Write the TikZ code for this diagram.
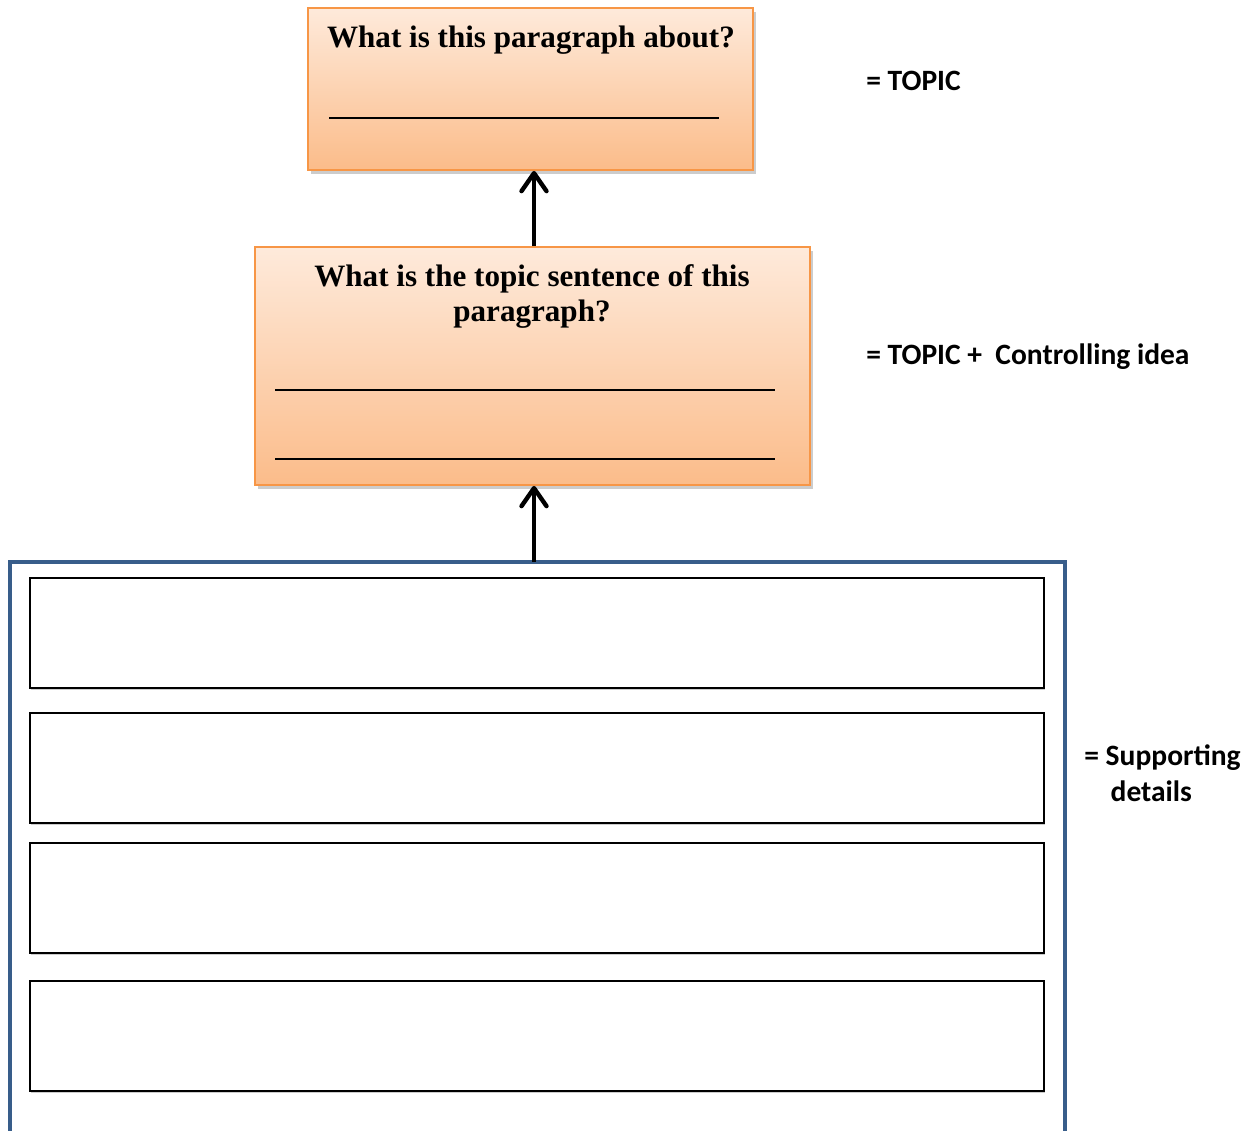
\documentclass[tikz,border=0pt]{standalone}
\usepackage{fontspec}
\newfontfamily\labelfont{Carlito}
\newfontfamily\questionfont{Liberation Serif}
\usetikzlibrary{arrows.meta, positioning, shadows}
\definecolor{boxorange}{RGB}{247,150,70}
\definecolor{orangetop}{RGB}{254,234,219}
\definecolor{orangebottom}{RGB}{251,188,138}
\definecolor{frameblue}{RGB}{56,93,138}

\begin{document}
\begin{tikzpicture}[x=0.02cm, y=-0.02cm,
    question/.style={draw=boxorange, line width=1.1pt, top color=orangetop, bottom color=orangebottom,
        drop shadow={shadow xshift=1.8pt, shadow yshift=-2.2pt, opacity=0.4}, inner sep=0pt},
    qtext/.style={font=\fontsize{17.7}{20.2}\selectfont\questionfont\bfseries, align=center},
    blank/.style={line width=0.9pt},
    detail/.style={draw=black, line width=1.1pt, fill=white, minimum width=20.28cm, minimum height=2.2cm,
        drop shadow={shadow xshift=0.6pt, shadow yshift=-1.2pt, opacity=0.4}, inner sep=0pt},
    side/.style={font=\fontsize{16.8}{20.4}\selectfont\labelfont\bfseries, align=left, inner sep=0pt},
    upward/.style={line width=2.5pt, -{Straight Barb[length=3.6mm, width=5mm, line cap=round, line join=round]}}]
    \useasboundingbox (0,0) rectangle (1256,1131);

    % Question: topic
    \node[question, minimum width=8.9cm, minimum height=3.24cm] (about) at (530.5,89) {};
    \node[qtext, anchor=base] (abouttext) at (531,48) {What is this paragraph about?};
    \draw[blank] (329,118) -- (719,118);

    % Question: topic sentence
    \node[question, minimum width=11.1cm, minimum height=4.76cm] (topicsent) at (532.5,366) {};
    \node[qtext, anchor=north] (topicsenttext) at (532,258) {What is the topic sentence of this\\paragraph?};
    \draw[blank] (275,390) -- (775,390);
    \draw[blank] (275,459) -- (775,459);

    % Frame with the supporting details (open at the bottom)
    \draw[frameblue, line width=2.4pt] (10,1140) -- (10,562) -- (1065,562) -- (1065,1140);
    \coordinate (frametop) at (534,562);
    \foreach \y [count=\i] in {633,768,898,1036}
        \node[detail] (detail\i) at (537,\y) {};

    % Arrows
    \draw[upward] (topicsent.north -| about.south) ++(3.5,0) coordinate (a1) -- (a1 |- about.south);
    \draw[upward] (frametop) -- (frametop |- topicsent.south);

    % Labels on the right
    \node[side, anchor=base west] (lbltopic) at (866,91) {= TOPIC};
    \node[side, anchor=base west] (lblcontrol) at (866,364) {= TOPIC +\ \ Controlling idea};
    \node[side, anchor=base west] (lbldetails) at (1084,801) {= Supporting\\\hphantom{=\,}\ details};
\end{tikzpicture}
\end{document}
